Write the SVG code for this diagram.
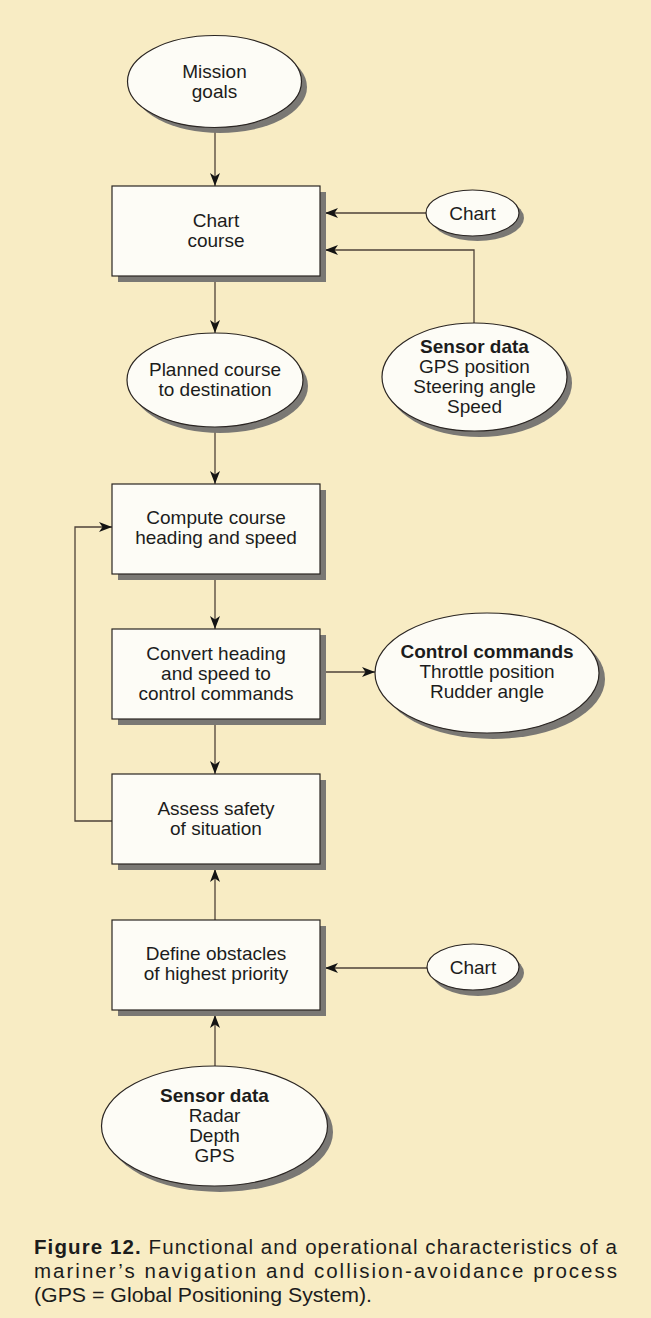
<svg xmlns="http://www.w3.org/2000/svg" width="651" height="1318" viewBox="0 0 651 1318">
  <defs>
    <marker id="arrow" viewBox="0 0 13 10" refX="13" refY="5" markerWidth="13" markerHeight="10" markerUnits="userSpaceOnUse" orient="auto">
      <path d="M0,0 L13,5 L0,10 L3.5,5 Z" fill="#141414"/>
    </marker>
  </defs>
  <style>
    .bg { fill: #f8ecc4; }
    .shadow { fill: #7a7874; }
    .node { fill: #fdfcf6; stroke: #2a2522; stroke-width: 1.2; }
    .lbl { font-family: "Liberation Sans", Arial, sans-serif; font-size: 19px; fill: #1c1c1c; text-anchor: middle; }
    .b { font-weight: bold; }
    .wire { fill: none; stroke: #4e4238; stroke-width: 1.3; marker-end: url(#arrow); }
    .cap { font-family: "Liberation Sans", Arial, sans-serif; font-size: 20.5px; fill: #1c1c1c; }
  </style>

  <rect class="bg" x="0" y="0" width="651" height="1318"/>

  <!-- connectors -->
  <g id="connectors">
    <path class="wire" d="M215,128 V186"/>
    <path class="wire" d="M426,213 H325"/>
    <path class="wire" d="M474,323 V250 H325"/>
    <path class="wire" d="M215,276 V333"/>
    <path class="wire" d="M215,427 V484"/>
    <path class="wire" d="M215,574 V629"/>
    <path class="wire" d="M325,672 H375"/>
    <path class="wire" d="M215,719 V774"/>
    <path class="wire" d="M112,821 H75 V527 H112"/>
    <path class="wire" d="M215,920 V869"/>
    <path class="wire" d="M427,968 H325"/>
    <path class="wire" d="M215,1066 V1015"/>
  </g>

  <!-- nodes -->
  <g id="mission-goals">
    <ellipse class="shadow" cx="220" cy="87" rx="87" ry="46"/>
    <ellipse class="node" cx="214.5" cy="81.5" rx="87" ry="46"/>
    <text class="lbl" x="214.5" y="78">Mission</text>
    <text class="lbl" x="214.5" y="98">goals</text>
  </g>

  <g id="chart-course">
    <rect class="shadow" x="118" y="192" width="208" height="90"/>
    <rect class="node" x="112" y="186" width="208" height="90"/>
    <text class="lbl" x="216" y="227">Chart</text>
    <text class="lbl" x="216" y="247">course</text>
  </g>

  <g id="chart-top">
    <ellipse class="shadow" cx="477.5" cy="218" rx="46.5" ry="23"/>
    <ellipse class="node" cx="472.5" cy="213" rx="46.5" ry="23"/>
    <text class="lbl" x="472.5" y="220">Chart</text>
  </g>

  <g id="planned-course">
    <ellipse class="shadow" cx="220" cy="386" rx="88" ry="47"/>
    <ellipse class="node" cx="215" cy="380" rx="88" ry="47"/>
    <text class="lbl" x="215" y="376">Planned course</text>
    <text class="lbl" x="215" y="396">to destination</text>
  </g>

  <g id="sensor-data-top">
    <ellipse class="shadow" cx="479.5" cy="383" rx="92.5" ry="54"/>
    <ellipse class="node" cx="474.5" cy="377" rx="92.5" ry="54"/>
    <text class="lbl b" x="474.5" y="353">Sensor data</text>
    <text class="lbl" x="474.5" y="373">GPS position</text>
    <text class="lbl" x="474.5" y="393">Steering angle</text>
    <text class="lbl" x="474.5" y="413">Speed</text>
  </g>

  <g id="compute-course">
    <rect class="shadow" x="118" y="490" width="208" height="90"/>
    <rect class="node" x="112" y="484" width="208" height="90"/>
    <text class="lbl" x="216" y="524">Compute course</text>
    <text class="lbl" x="216" y="544">heading and speed</text>
  </g>

  <g id="convert-heading">
    <rect class="shadow" x="118" y="635" width="208" height="90"/>
    <rect class="node" x="112" y="629" width="208" height="90"/>
    <text class="lbl" x="216" y="660">Convert heading</text>
    <text class="lbl" x="216" y="680">and speed to</text>
    <text class="lbl" x="216" y="700">control commands</text>
  </g>

  <g id="control-commands">
    <ellipse class="shadow" cx="493" cy="679" rx="112" ry="60"/>
    <ellipse class="node" cx="487" cy="673" rx="112" ry="60"/>
    <text class="lbl b" x="487" y="658">Control commands</text>
    <text class="lbl" x="487" y="678">Throttle position</text>
    <text class="lbl" x="487" y="698">Rudder angle</text>
  </g>

  <g id="assess-safety">
    <rect class="shadow" x="118" y="780" width="208" height="90"/>
    <rect class="node" x="112" y="774" width="208" height="90"/>
    <text class="lbl" x="216" y="815">Assess safety</text>
    <text class="lbl" x="216" y="835">of situation</text>
  </g>

  <g id="define-obstacles">
    <rect class="shadow" x="118" y="926" width="208" height="90"/>
    <rect class="node" x="112" y="920" width="208" height="90"/>
    <text class="lbl" x="216" y="960">Define obstacles</text>
    <text class="lbl" x="216" y="980">of highest priority</text>
  </g>

  <g id="chart-bottom">
    <ellipse class="shadow" cx="478" cy="973" rx="46" ry="23"/>
    <ellipse class="node" cx="473" cy="967" rx="46" ry="23"/>
    <text class="lbl" x="473" y="974">Chart</text>
  </g>

  <g id="sensor-data-bottom">
    <ellipse class="shadow" cx="220" cy="1132" rx="113" ry="60"/>
    <ellipse class="node" cx="214.5" cy="1126" rx="113" ry="60"/>
    <text class="lbl b" x="214.5" y="1102">Sensor data</text>
    <text class="lbl" x="214.5" y="1122">Radar</text>
    <text class="lbl" x="214.5" y="1142">Depth</text>
    <text class="lbl" x="214.5" y="1162">GPS</text>
  </g>

  <!-- caption -->
  <g id="caption">
    <text class="cap" x="34" y="1254" textLength="583" lengthAdjust="spacing"><tspan font-weight="bold">Figure 12.</tspan> Functional and operational characteristics of a</text>
    <text class="cap" x="34" y="1278" textLength="583" lengthAdjust="spacing">mariner’s navigation and collision-avoidance process</text>
    <text class="cap" x="34" y="1302" textLength="338" lengthAdjust="spacingAndGlyphs">(GPS = Global Positioning System).</text>
  </g>
</svg>
